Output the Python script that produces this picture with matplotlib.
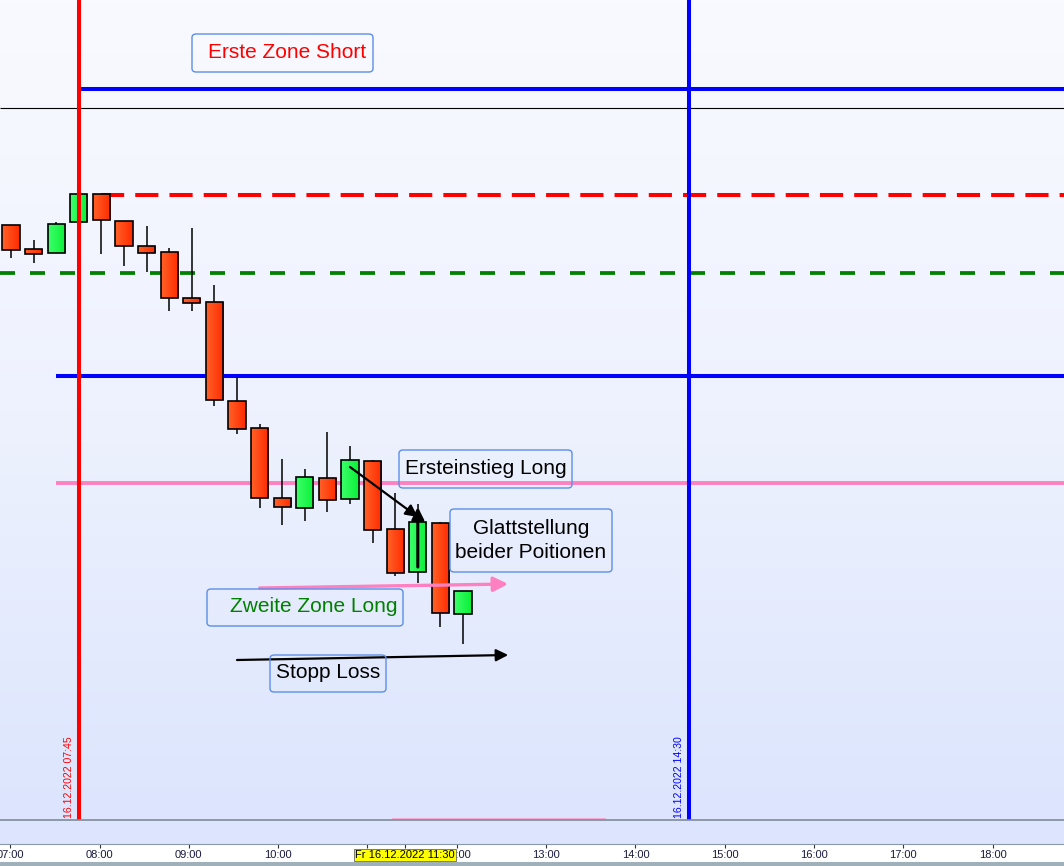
import matplotlib
matplotlib.use("Agg")

import matplotlib.pyplot as plt
import numpy as np
from matplotlib.patches import FancyBboxPatch
from matplotlib.colors import LinearSegmentedColormap

plt.rcParams["font.family"] = ["Liberation Sans", "DejaVu Sans"]

# --- data: 15 min candles, 16.12.2022 (prices, no scale shown)
times = [7 + 0.25 * i for i in range(21)]
opens = [14075, 14051, 14047, 14078, 14106, 14079, 14054, 14048, 14002, 13998, 13899,
         13872, 13802, 13792, 13822, 13801, 13839, 13771, 13728, 13777, 13686]
highs = [14075, 14060, 14078, 14106, 14106, 14079, 14074, 14052, 14072, 14015, 13923,
         13876, 13841, 13831, 13868, 13854, 13840, 13807, 13796, 13778, 13709]
lows = [14042, 14037, 14047, 14078, 14046, 14034, 14028, 13989, 13989, 13894, 13866,
        13792, 13775, 13779, 13788, 13796, 13757, 13724, 13717, 13673, 13656]
closes = [14050, 14046, 14076, 14106, 14080, 14054, 14047, 14002, 13997, 13900, 13871,
          13802, 13793, 13823, 13800, 13840, 13770, 13727, 13778, 13687, 13709]

# horizontal levels
blue_top = 14211
black_line = 14192
short_zone = 14104.5      # red dashed
green_zone = 14026.5      # green dashed
blue_mid = 13923.5
pink_level = 13817

# vertical markers
marker_times = [7.75, 14.5]
marker_labels = ["16.12.2022 07:45", "16.12.2022 14:30"]
marker_colors = ["#ff0000", "#0000ff"]

tick_hours = list(range(7, 19))
tick_labels = ["%02d:00" % h for h in tick_hours]
cursor_time = 11.5
cursor_label = "Fr 16.12.2022 11:30"

W, H = 1064, 866
fig = plt.figure(figsize=(W / 100, H / 100), dpi=100)
fig.patch.set_facecolor("#dce5fd")

# main price pane: pixel rows 0..820
ax = fig.add_axes([0, 46 / H, 1, 820 / H])
x0, x1 = 7 - 11 / 90.4, 7 - 11 / 90.4 + W / 90.4
y0, y1 = 13480, 14300
ax.set_xlim(x0, x1)
ax.set_ylim(y0, y1)
ax.axis("off")

bg = LinearSegmentedColormap.from_list("bg", ["#dce5fd", "#eef2fe", "#f9faff"])
grad = np.linspace(0, 1, 256).reshape(-1, 1)
ax.imshow(grad, cmap=bg, origin="lower", extent=[x0, x1, y0, y1],
          aspect="auto", zorder=0)

# candles
red_cm = LinearSegmentedColormap.from_list("r", ["#ff6228", "#ff2a00"])
green_cm = LinearSegmentedColormap.from_list("g", ["#3cff6a", "#0af038"])
hgrad = np.linspace(0, 1, 64).reshape(1, -1)
ax.vlines(times, lows, highs, color="black", lw=1.1, zorder=3)
for t, o, c in zip(times, opens, closes):
    lo, hi = min(o, c), max(o, c)
    bar = ax.bar(t, max(hi - lo, 1), bottom=lo, width=0.19, facecolor="none",
                 edgecolor="black", linewidth=1.2, zorder=5)[0]
    im = ax.imshow(hgrad, cmap=green_cm if c > o else red_cm, aspect="auto",
                   extent=[t - 0.095, t + 0.095, lo, hi], zorder=4)
    im.set_clip_path(bar)
ax.set_xlim(x0, x1)
ax.set_ylim(y0, y1)

# levels
ax.hlines(black_line, x0, x1, color="black", lw=0.8, zorder=2)
ax.hlines(blue_top, 7.75, x1, color="#0000ff", lw=2.9, zorder=2)
ax.hlines(blue_mid, 7.5, x1, color="#0000ff", lw=2.9, zorder=2)
ax.hlines(pink_level, 7.5, x1, color="#ff80c0", lw=2.8, zorder=2)
ax.plot([8.0, x1], [short_zone] * 2, color="#ff0000", lw=2.9,
        dashes=(5.75, 2.75), zorder=2)
ax.plot([x0, x1], [green_zone] * 2, color="#008000", lw=2.7,
        dashes=(4, 4), dash_capstyle="butt", zorder=2)
ax.plot([11.23, 13.57], [13481, 13481], color="#ff9ccf", lw=1.2, zorder=2)

for t, lab, col in zip(marker_times, marker_labels, marker_colors):
    ax.axvline(t, color=col, lw=2.9, zorder=6)
    ax.annotate(lab, xy=(t, y0), xytext=(-5, 2), textcoords="offset pixels",
                rotation=90, ha="right", va="bottom", color=col, fontsize=7.6,
                zorder=7)

# arrows
ax.annotate("", xy=(12.5, 13716), xytext=(9.75, 13712),
            arrowprops=dict(arrowstyle="-|>", color="#ff80c0", lw=2.4,
                            mutation_scale=22, shrinkA=0, shrinkB=0), zorder=8)
ax.annotate("", xy=(12.5, 13645), xytext=(9.5, 13640),
            arrowprops=dict(arrowstyle="-|>", color="black", lw=1.6,
                            mutation_scale=18, shrinkA=0, shrinkB=0), zorder=8)
ax.annotate("", xy=(11.5, 13783), xytext=(10.75, 13833),
            arrowprops=dict(arrowstyle="-|>", color="black", lw=1.6,
                            mutation_scale=18, shrinkA=0, shrinkB=0), zorder=8)
ax.annotate("", xy=(11.5, 13793), xytext=(11.5, 13733),
            arrowprops=dict(arrowstyle="-|>", color="black", lw=2.2,
                            mutation_scale=18, shrinkA=0, shrinkB=0), zorder=8)


def note_box(x_a, y_a, x_b, y_b):
    box = FancyBboxPatch((x_a / W, 1 - y_b / H), (x_b - x_a) / W, (y_b - y_a) / H,
                         boxstyle="round,pad=0,rounding_size=0.004",
                         transform=fig.transFigure, facecolor="none",
                         edgecolor="#5b8ee8", linewidth=1.0, zorder=9)
    fig.add_artist(box)


def note_text(x, y, s, color="black", ha="left"):
    fig.text(x / W, 1 - y / H, s, color=color, ha=ha, va="center",
             fontsize=15, zorder=10)


note_box(192, 34, 373, 72)
note_text(208, 52, "Erste Zone Short", "#ff0000")
note_box(399, 450, 572, 488)
note_text(405, 468, "Ersteinstieg Long")
note_box(450, 509, 612, 572)
note_text(531, 528, "Glattstellung", ha="center")
note_text(531, 553, "beider Poitionen", ha="center")
note_box(207, 589, 403, 626)
note_text(230, 606, "Zweite Zone Long", "#008000")
note_box(270, 655, 386, 692)
note_text(276, 673, "Stopp Loss")

# lower strip + time axis
fig.add_artist(plt.Line2D([0, 1], [46 / H, 46 / H], transform=fig.transFigure,
                          color="#7f8c99", lw=1.2))
axt = fig.add_axes([0, 4 / H, 1, 18 / H])
# the time scale of the chart program is slightly compressed compared to the bars
axt.set_xlim(7 - 10.2 / 89.32, 7 - 10.2 / 89.32 + W / 89.32)
axt.set_ylim(0, 1)
axt.set_facecolor("white")
for side in ["left", "right", "bottom"]:
    axt.spines[side].set_visible(False)
axt.spines["top"].set_color("#8898a8")
axt.set_yticks([])
axt.set_xticks(tick_hours + [cursor_time - 0.08])
axt.tick_params(axis="x", top=True, bottom=False, labelbottom=False,
                direction="in", length=3, color="#333333")
for h, lab in zip(tick_hours, tick_labels):
    axt.text(h, 0.38, lab, ha="center", va="center", fontsize=8,
             color="#1a1a40")
axt.text(cursor_time - 0.08, 0.4, cursor_label, ha="center", va="center",
         fontsize=8, color="black", zorder=5,
         bbox=dict(boxstyle="square,pad=0.1", facecolor="#ffff00",
                   edgecolor="#666666", linewidth=0.6))
fig.add_artist(plt.Rectangle((0, 0), 1, 4 / H, transform=fig.transFigure,
                             facecolor="#9fb0bb", edgecolor="none"))

plt.savefig("out.png", dpi=100)
plt.close()
